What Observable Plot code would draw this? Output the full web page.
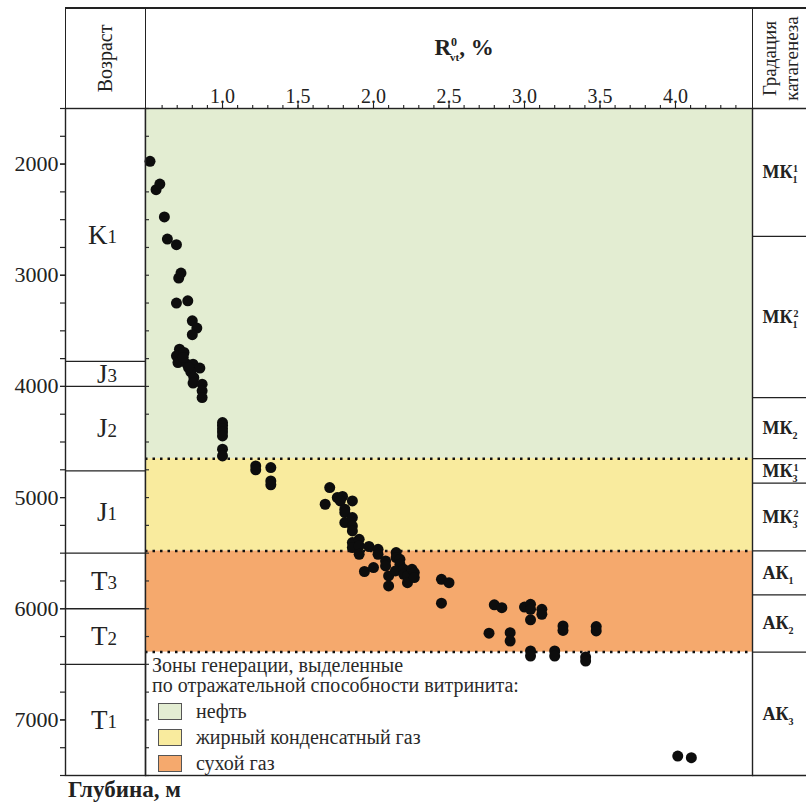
<!DOCTYPE html>
<html>
<head>
<meta charset="utf-8">
<script src="https://cdn.jsdelivr.net/npm/d3@7"></script>
<script src="https://cdn.jsdelivr.net/npm/@observablehq/plot@0.6"></script>
<style>
  body { margin: 0; background: #fff; }
  #wrap { position: relative; width: 806px; height: 805px; overflow: hidden; font-family: "Liberation Serif", "Times New Roman", serif; color: #222; }
  #wrap svg { position: absolute; top: 0; overflow: visible; }
  .ln { position: absolute; background: #222; z-index: 3; }
  .lg { position: absolute; font-size: 20px; line-height: 20px; color: #2a2a2a; white-space: nowrap; z-index: 3; }
  .sw { position: absolute; width: 22px; height: 15px; border: 1.5px solid #555; z-index: 3; }
  #ylab { position: absolute; left: 68px; top: 778px; font-size: 23px; line-height: 23px; font-weight: bold; color: #222; white-space: nowrap; }
</style>
</head>
<body>
<div id="wrap"></div>
<script>
// ---------- data ----------
const ageNames   = ["K", "J", "J", "J", "T", "T", "T"];
const ageIndex   = ["1", "3", "2", "1", "3", "2", "1"];
const ageTop     = [1500, 3775, 4000, 4760, 5500, 6000, 6500];
const ageBottom  = [3775, 4000, 4760, 5500, 6000, 6500, 7500];

const zoneNames  = ["нефть", "жирный конденсатный газ", "сухой газ"];
const zoneTop    = [1500, 4650, 5480];
const zoneBottom = [4650, 5480, 6390];
const zoneColors = ["#e3edd2", "#f9eb9e", "#f5a96d"];

const gradBase   = ["МК", "МК", "МК", "МК", "МК", "АК", "АК", "АК"];
const gradSub    = ["1", "1", "2", "3", "3", "1", "2", "3"];
const gradSup    = ["1", "2", "", "1", "2", "", "", ""];
const gradTop    = [1500, 2650, 4100, 4650, 4870, 5480, 5875, 6390];
const gradBottom = [2650, 4100, 4650, 4870, 5480, 5875, 6390, 7500];

// vitrinite reflectance R0vt, % and depth, m
const ro = [
  0.52, 0.56, 0.585, 0.615, 0.635, 0.695, 0.71, 0.725, 0.695, 0.77, 0.80, 0.83, 0.80,
  0.715, 0.695, 0.725, 0.745, 0.705, 0.765, 0.805, 0.85, 0.79, 0.81, 0.805, 0.865, 0.865, 0.865, 0.74, 0.775,
  1.0, 1.0, 1.0, 1.0, 1.0, 1.0, 1.0,
  1.22, 1.22, 1.32, 1.32, 1.32,
  1.71, 1.68, 1.76, 1.795, 1.78, 1.86, 1.81, 1.81, 1.81, 1.86, 1.86, 1.86, 1.86, 1.86,
  1.905, 1.905, 1.905, 1.97, 2.03, 2.03, 1.94, 2.0, 2.08, 2.08, 2.15, 2.15, 2.175, 2.175,
  2.10, 2.10, 2.145, 2.20, 2.20, 2.225, 2.225, 2.255, 2.27, 2.27,
  2.45, 2.50, 2.45, 2.80, 2.85, 2.765, 2.905, 2.905, 3.0, 3.04, 3.04, 3.115, 3.115, 3.04,
  3.255, 3.255, 3.475, 3.475, 3.04, 3.04, 3.20, 3.20, 3.405, 3.405,
  4.015, 4.105
];
const depth = [
  1975, 2230, 2180, 2475, 2675, 2725, 3025, 2980, 3250, 3230, 3410, 3475, 3535,
  3665, 3725, 3755, 3695, 3785, 3800, 3800, 3835, 3870, 3920, 3970, 3980, 4040, 4100, 3740, 3830,
  4325, 4350, 4380, 4410, 4445, 4565, 4625,
  4715, 4750, 4730, 4850, 4885,
  4910, 5060, 5000, 4990, 5030, 5030, 5105, 5135, 5225, 5180, 5255, 5300, 5405, 5450,
  5375, 5435, 5510, 5440, 5465, 5510, 5665, 5630, 5570, 5615, 5495, 5540, 5555, 5600,
  5705, 5795, 5660, 5645, 5690, 5705, 5765, 5645, 5675, 5720,
  5735, 5765, 5950, 5965, 5990, 6220, 6215, 6290, 5985, 5960, 6005, 6005, 6050, 6100,
  6155, 6195, 6160, 6200, 6380, 6425, 6380, 6425, 6435, 6470,
  7325, 7340
];

const xTicks      = [1.0, 1.5, 2.0, 2.5, 3.0, 3.5, 4.0];
const xMinorTicks = d3.range(6, 45).map(d => d / 10);
const depthTicks  = [2000, 3000, 4000, 5000, 6000, 7000];
const depthMinor  = d3.range(1500, 7501, 250);

// ---------- tables ----------
const ages   = ageNames.map((n, i) => ({n, idx: ageIndex[i], mid: (ageTop[i] + ageBottom[i]) / 2}));
const zones  = zoneNames.map((n, i) => ({n, top: zoneTop[i], bottom: zoneBottom[i], color: zoneColors[i]}));
const grads  = gradBase.map((b, i) => ({base: b, sub: gradSub[i], sup: gradSup[i], mid: (gradTop[i] + gradBottom[i]) / 2}));
const points = ro.map((x, i) => ({x, y: depth[i]}));

// ---------- layout ----------
const H = 780, mT = 108, mB = 5;
const yDomain = [1500, 7500];
const xDomain = [0.49, 4.51];
const serif = "'Liberation Serif', 'Times New Roman', serif";
const baseStyle = {fontFamily: serif, overflow: "visible", color: "#222", background: "transparent"};
const wrap = document.getElementById("wrap");

// Age column + depth axis
const plotA = Plot.plot({
  width: 145, height: H, marginLeft: 65, marginRight: 0, marginTop: mT, marginBottom: mB,
  style: baseStyle,
  x: {domain: [0, 1], axis: null},
  y: {domain: yDomain, reverse: true, axis: null},
  marks: [
    Plot.axisY({anchor: "left", ticks: depthMinor, tickSize: 5, tickFormat: () => "", label: null, strokeWidth: 1.2}),
    Plot.axisY({anchor: "left", ticks: depthTicks, tickSize: 5, tickPadding: 2, fontSize: 22, tickFormat: d => String(d), label: null, strokeWidth: 1.2}),
    Plot.ruleY(ageTop.slice(1), {stroke: "#222", strokeWidth: 1.3}),
    Plot.frame({stroke: "#222", strokeWidth: 1.4}),
    Plot.text(ages, {y: "mid", text: "n", textAnchor: "end", dx: 2, fontSize: 27}),
    Plot.text(ages, {y: "mid", text: "idx", textAnchor: "start", dx: 2, dy: 2, fontSize: 19}),
    Plot.text(["Возраст"], {frameAnchor: "top", dy: -50, dx: -8, rotate: -90, fontSize: 20})
  ]
});
plotA.style.left = "0px";
wrap.appendChild(plotA);

// Main chart
const plotB = Plot.plot({
  width: 607, height: H, marginLeft: 0, marginRight: 0, marginTop: mT, marginBottom: mB,
  style: baseStyle,
  x: {domain: xDomain, axis: null},
  y: {domain: yDomain, reverse: true, axis: null},
  color: {type: "identity"},
  marks: [
    Plot.rect(zones, {x1: () => xDomain[0], x2: () => xDomain[1], y1: "top", y2: "bottom", fill: "color"}),
    Plot.tickY(depthMinor, {insetRight: 603, stroke: "#333", strokeWidth: 1.2}),
    Plot.ruleY(zoneBottom, {stroke: "#111", strokeWidth: 2.5, strokeDasharray: "2.5,5"}),
    Plot.dot(points, {x: "x", y: "y", r: 5.5, fill: "#0d0d0d", stroke: "none"}),
    Plot.frame({stroke: "#222", strokeWidth: 1.4}),
    Plot.axisX({anchor: "top", ticks: xMinorTicks, tickSize: 4, tickFormat: () => "", label: null, strokeWidth: 1.1}),
    Plot.axisX({anchor: "top", ticks: xTicks, tickSize: 6, tickPadding: 0, tickFormat: d => d.toFixed(1), fontSize: 20, label: null, strokeWidth: 1.1}),
    Plot.text([2.6], {x: d => d, frameAnchor: "top", dy: -70, text: () => "R", fontSize: 23, fontWeight: "bold"})
  ]
});
plotB.style.left = "145px";
wrap.appendChild(plotB);
d3.select(plotB).selectAll("text").filter(function() { return this.textContent === "R"; }).each(function() {
  const t = d3.select(this);
  t.text(null);
  t.append("tspan").text("R");
  t.append("tspan").attr("dy", -9).attr("font-size", 12).text("0");
  t.append("tspan").attr("dx", -7).attr("dy", 15).attr("font-size", 11).text("vt");
  t.append("tspan").attr("dy", -6).text(", %");
});

// Catagenesis column
const plotC = Plot.plot({
  width: 54, height: H, marginLeft: 0, marginRight: 0, marginTop: mT, marginBottom: mB,
  style: baseStyle,
  x: {domain: [0, 1], axis: null},
  y: {domain: yDomain, reverse: true, axis: null},
  marks: [
    Plot.ruleY(gradTop.concat([7500]), {stroke: "#222", strokeWidth: 1.3}),
    Plot.text(grads, {y: "mid", text: "base", frameAnchor: "left", textAnchor: "start", dx: 10, fontSize: 18, fontWeight: "bold"}),
    Plot.text(["Градация"], {frameAnchor: "top", dy: -50, dx: -17, rotate: -90, fontSize: 19}),
    Plot.text(["катагенеза"], {frameAnchor: "top", dy: -50, dx: 5, rotate: -90, fontSize: 19})
  ]
});
plotC.style.left = "752px";
wrap.appendChild(plotC);
d3.select(plotC).selectAll("text").filter(function() { return this.textContent === "МК" || this.textContent === "АК"; }).each(function(_, i) {
  const el = d3.select(this);
  el.append("tspan").attr("dy", 5).attr("font-size", 10).text(grads[i].sub);
  if (grads[i].sup) el.append("tspan").attr("dx", -4).attr("dy", -11).attr("font-size", 10).text(grads[i].sup);
});

// header frame lines
[[65, 7, 741, 1.5], [64.5, 7, 1.5, 101], [144.5, 7, 1.5, 101], [751.5, 7, 1.5, 101]].forEach(([l, t, w, h]) => {
  const d = document.createElement("div");
  d.className = "ln";
  Object.assign(d.style, {left: l + "px", top: t + "px", width: w + "px", height: h + "px"});
  wrap.appendChild(d);
});

// legend inside plot
const legendLines = [
  ["Зоны генерации, выделенные", 152, 655],
  ["по отражательной способности витринита:", 152, 675]
];
legendLines.forEach(([txt, l, t]) => {
  const d = document.createElement("div");
  d.className = "lg"; d.textContent = txt;
  d.style.left = l + "px"; d.style.top = t + "px";
  wrap.appendChild(d);
});
const swTops = [703, 729, 755];
zones.forEach((z, i) => {
  const s = document.createElement("div");
  s.className = "sw"; s.style.left = "158px"; s.style.top = swTops[i] + "px"; s.style.background = z.color;
  wrap.appendChild(s);
  const d = document.createElement("div");
  d.className = "lg"; d.textContent = z.n;
  d.style.left = "196px"; d.style.top = (swTops[i] - 2) + "px";
  wrap.appendChild(d);
});

const yl = document.createElement("div");
yl.id = "ylab"; yl.textContent = "Глубина, м";
wrap.appendChild(yl);
</script>
</body>
</html>
